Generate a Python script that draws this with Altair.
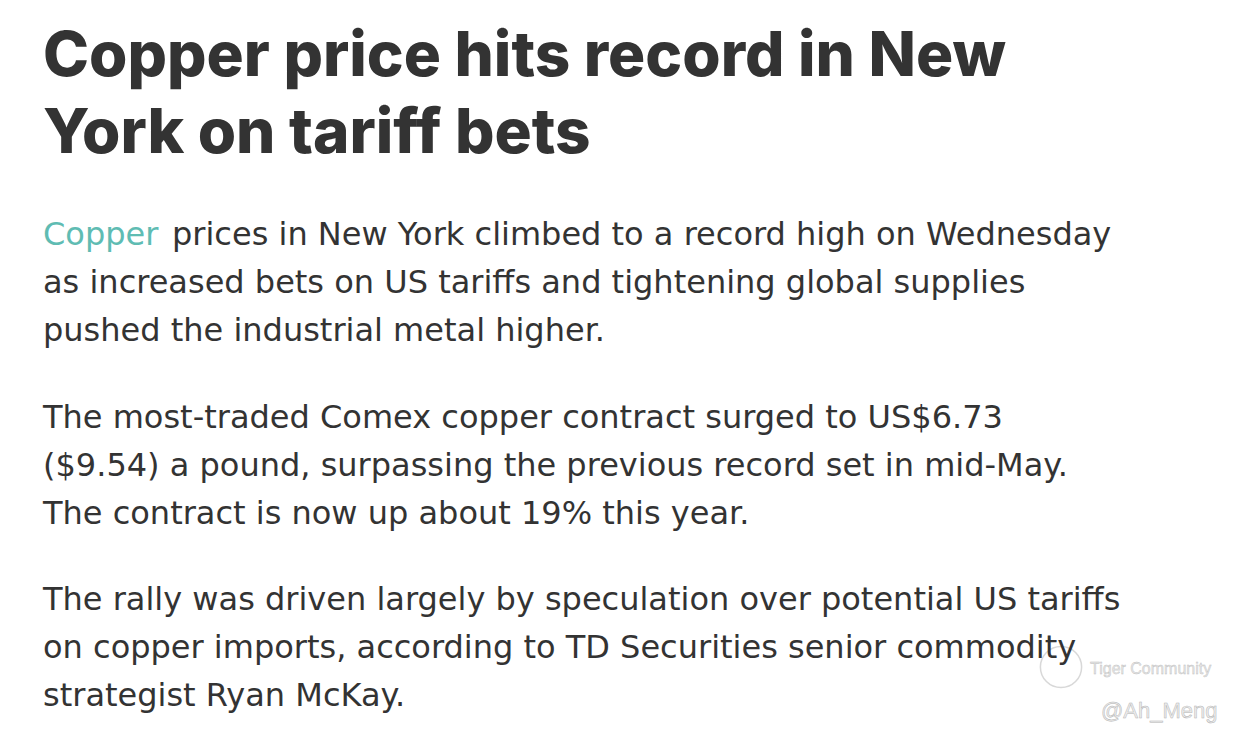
import altair as alt
import pandas as pd

# ---- content -------------------------------------------------------------
title_lines = ["Copper price hits record in New", "York on tariff bets"]
link_word = "Copper"
para1 = [
    "prices in New York climbed to a record high on Wednesday",
    "as increased bets on US tariffs and tightening global supplies",
    "pushed the industrial metal higher.",
]
para2 = [
    "The most-traded Comex copper contract surged to US$6.73",
    "($9.54) a pound, surpassing the previous record set in mid-May.",
    "The contract is now up about 19% this year.",
]
para3 = [
    "The rally was driven largely by speculation over potential US tariffs",
    "on copper imports, according to TD Securities senior commodity",
    "strategist Ryan McKay.",
]
watermark_brand = "Tiger Community"
watermark_user = "@Ah_Meng"

# ---- layout (page pixel coordinates) --------------------------------------
W, H = 1238, 737
LEFT = 43
TITLE_BASE, TITLE_PITCH = 76, 77
BODY_BASE, LINE_PITCH, PARA_PITCH = 245, 48, 182.5
LINK_GAP = 129  # offset of text following the link word

rows = []
for i, t in enumerate(title_lines):
    rows.append(dict(text=t, x=LEFT, y=TITLE_BASE + i * TITLE_PITCH, kind="title"))
rows.append(dict(text=link_word, x=LEFT, y=BODY_BASE, kind="link"))
for p, para in enumerate([para1, para2, para3]):
    for i, t in enumerate(para):
        x = LEFT + (LINK_GAP if (p == 0 and i == 0) else 0)
        rows.append(dict(text=t, x=x, y=BODY_BASE + p * PARA_PITCH + i * LINE_PITCH, kind="body"))
rows.append(dict(text=watermark_brand, x=1090, y=674, kind="brand"))
rows.append(dict(text=watermark_user, x=1101, y=718, kind="user"))
df = pd.DataFrame(rows)

logo = pd.DataFrame([dict(x=1061, y=667)])

xs = alt.Scale(domain=[8, W - 8], range=[0, W - 16])
ys = alt.Scale(domain=[8, H - 8], range=[0, H - 16])
X = alt.X("x:Q", scale=xs, axis=None)
Y = alt.Y("y:Q", scale=ys, axis=None)

base = alt.Chart(df)

title = base.transform_filter(alt.datum.kind == "title").mark_text(
    align="left", baseline="alphabetic", font="Inter", fontWeight=800,
    fontSize=62, color="#333333"
).encode(x=X, y=Y, text="text:N")

link = base.transform_filter(alt.datum.kind == "link").mark_text(
    align="left", baseline="alphabetic", font="DejaVu Sans", fontWeight=400,
    fontSize=32, color="#5fbcb3"
).encode(x=X, y=Y, text="text:N")

body = base.transform_filter(alt.datum.kind == "body").mark_text(
    align="left", baseline="alphabetic", font="DejaVu Sans", fontWeight=400,
    fontSize=32, color="#333333"
).encode(x=X, y=Y, text="text:N")

logo_mark = alt.Chart(logo).mark_point(
    shape="circle", size=1700, filled=False, color="#c8c8c8", strokeWidth=1.5
).encode(x=X, y=Y)

brand = base.transform_filter(alt.datum.kind == "brand").mark_text(
    align="left", baseline="alphabetic", font="Liberation Sans", fontSize=16,
    color="#e8e8e8", stroke="#bcbcbc", strokeWidth=0.4
).encode(x=X, y=Y, text="text:N")

user = base.transform_filter(alt.datum.kind == "user").mark_text(
    align="left", baseline="alphabetic", font="Liberation Sans", fontSize=22,
    color="#eeeeee", stroke="#b4b4b4", strokeWidth=0.5
).encode(x=X, y=Y, text="text:N")

chart = alt.layer(logo_mark, title, link, body, brand, user).properties(
    width=W - 16, height=H - 16, padding=0, background="white",
    autosize=alt.AutoSizeParams(type="none")
).configure_view(stroke=None)

chart.save("out.html", embed_options={"renderer": "svg", "actions": False})
